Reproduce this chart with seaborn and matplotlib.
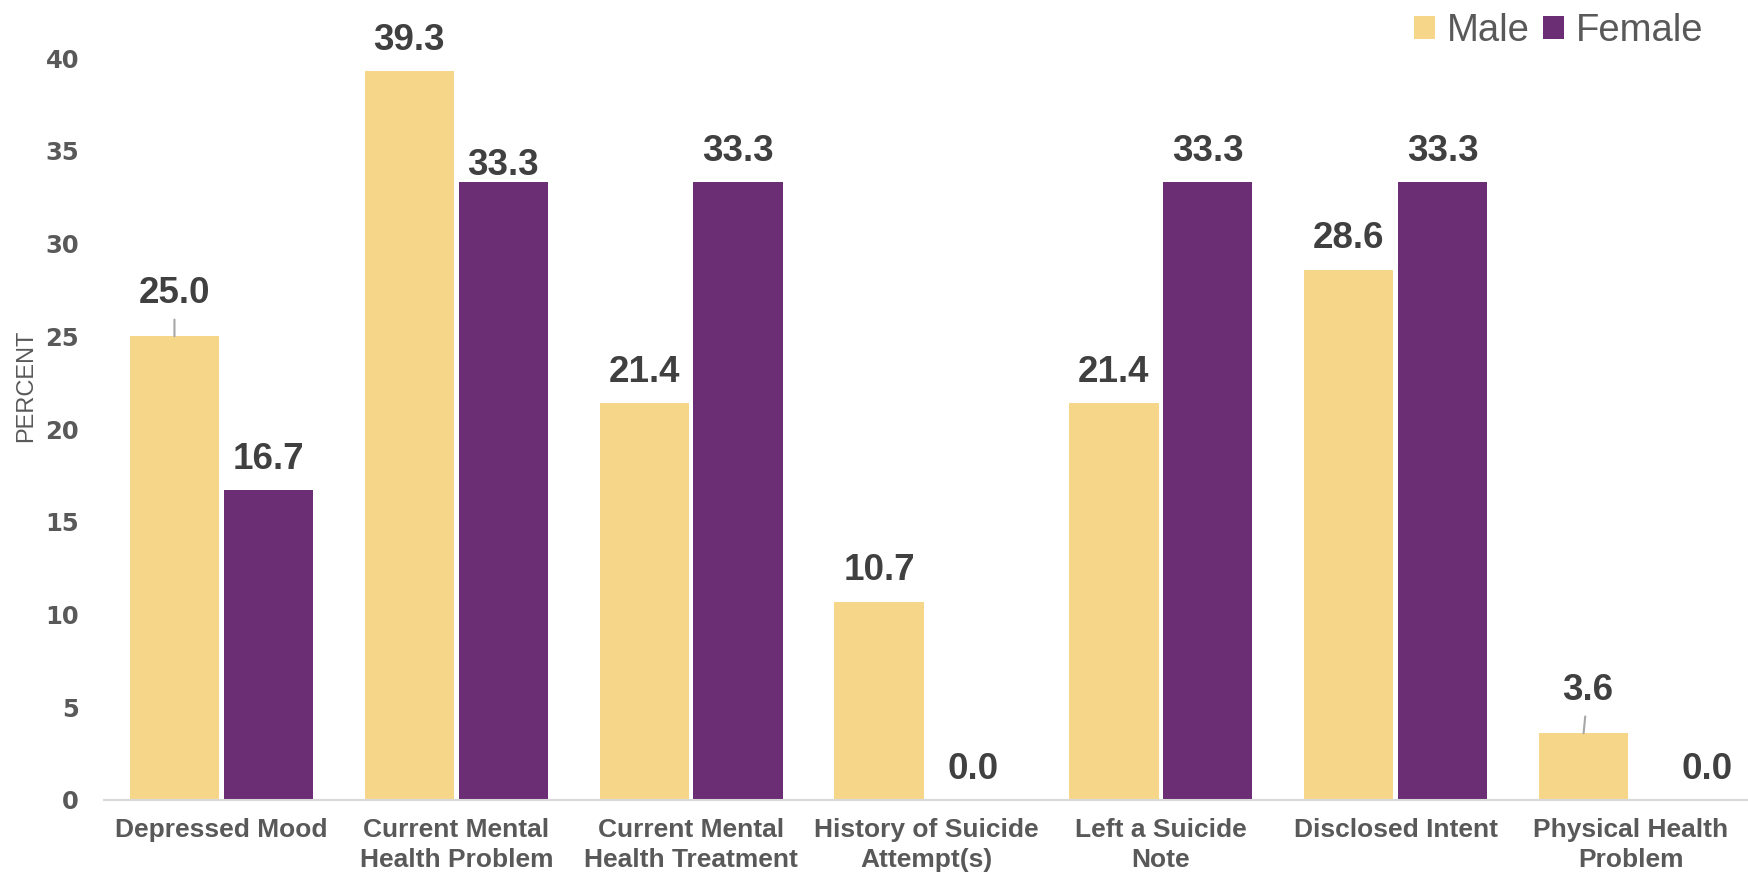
"""
Circumstances of suicide by sex - grouped bar chart
"""
import pandas as pd
import matplotlib.pyplot as plt
import seaborn as sns
from matplotlib.patches import Patch

categories = [
    "Depressed Mood",
    "Current Mental\nHealth Problem",
    "Current Mental\nHealth Treatment",
    "History of Suicide\nAttempt(s)",
    "Left a Suicide\nNote",
    "Disclosed Intent",
    "Physical Health\nProblem",
]
male = [25.0, 39.3, 21.4, 10.7, 21.4, 28.6, 3.6]
female = [16.7, 33.3, 33.3, 0.0, 33.3, 33.3, 0.0]
groups = ["Male", "Female"]
yticks = [0, 5, 10, 15, 20, 25, 30, 35, 40]

colors = {"Male": "#F6D78A", "Female": "#6B2D73"}
text_dark = "#404040"
text_grey = "#595959"

# label offsets (points) per group, per category: (dx, dy, leader line)
label_style = {
    "Male": [(0, 31, True), (0, 22, False), (0, 22, False), (0, 22, False),
             (0, 22, False), (0, 22, False), (3, 31, True)],
    "Female": [(0, 22, False), (0, 12, False), (0, 22, False), (0, 22, False),
               (0, 22, False), (0, 22, False), (21, 22, False)],
}

df = pd.DataFrame({
    "category": categories * 2,
    "sex": ["Male"] * len(male) + ["Female"] * len(female),
    "percent": male + female,
})

sns.set_style("white")
plt.rcParams["font.family"] = ["Liberation Sans", "DejaVu Sans"]

fig = plt.figure(figsize=(17.48, 8.74), dpi=100)
ax = fig.add_axes([0.0595, 0.0847, 0.9405, 0.9153])

sns.barplot(data=df, x="category", y="percent", hue="sex", hue_order=groups,
            palette=colors, width=0.8, gap=0.05, ax=ax, legend=False,
            saturation=1, edgecolor="none")

ax.set_xlim(-0.5, len(categories) - 0.5)
ax.set_ylim(0, 43.13)
ax.set_yticks(yticks)
ax.set_yticklabels([str(t) for t in yticks], fontsize=17.5, fontweight="bold",
                   color=text_grey, family="DejaVu Sans")
ax.set_xticks(range(len(categories)))
ax.set_xticklabels(categories, fontsize=19, fontweight="bold", color=text_grey,
                   linespacing=1.3, va="top")
ax.tick_params(axis="y", length=0, pad=18)
ax.tick_params(axis="x", length=0, pad=13)
ax.set_xlabel("")
ax.set_ylabel("PERCENT", fontsize=17, color=text_grey, labelpad=6, y=0.5175)

for side in ["top", "right", "left"]:
    ax.spines[side].set_visible(False)
ax.spines["bottom"].set_color("#D9D9D9")
ax.spines["bottom"].set_linewidth(1.5)
ax.grid(False)

# value labels
for sex, container in zip(groups, ax.containers):
    for bar, (dx, dy, leader) in zip(container, label_style[sex]):
        h = bar.get_height()
        x = bar.get_x() + bar.get_width() / 2
        arrow = None
        if leader:
            arrow = dict(arrowstyle="-", color="#A6A6A6", lw=1.5,
                         shrinkA=4, shrinkB=0)
        ax.annotate(f"{h:.1f}", xy=(x, h), xytext=(dx, dy),
                    textcoords="offset points", ha="center", va="center",
                    fontsize=26.5, fontweight="bold", color=text_dark,
                    arrowprops=arrow)

handles = [Patch(facecolor=colors[g], edgecolor="none") for g in groups]
fig.legend(handles, groups, loc="upper right", bbox_to_anchor=(0.994, 1.025),
           ncol=2, frameon=False, fontsize=27.5, labelcolor=text_grey,
           handlelength=0.55, handleheight=0.55, handletextpad=0.3,
           columnspacing=0.35)

plt.savefig("out.png", dpi=100)
plt.close()
